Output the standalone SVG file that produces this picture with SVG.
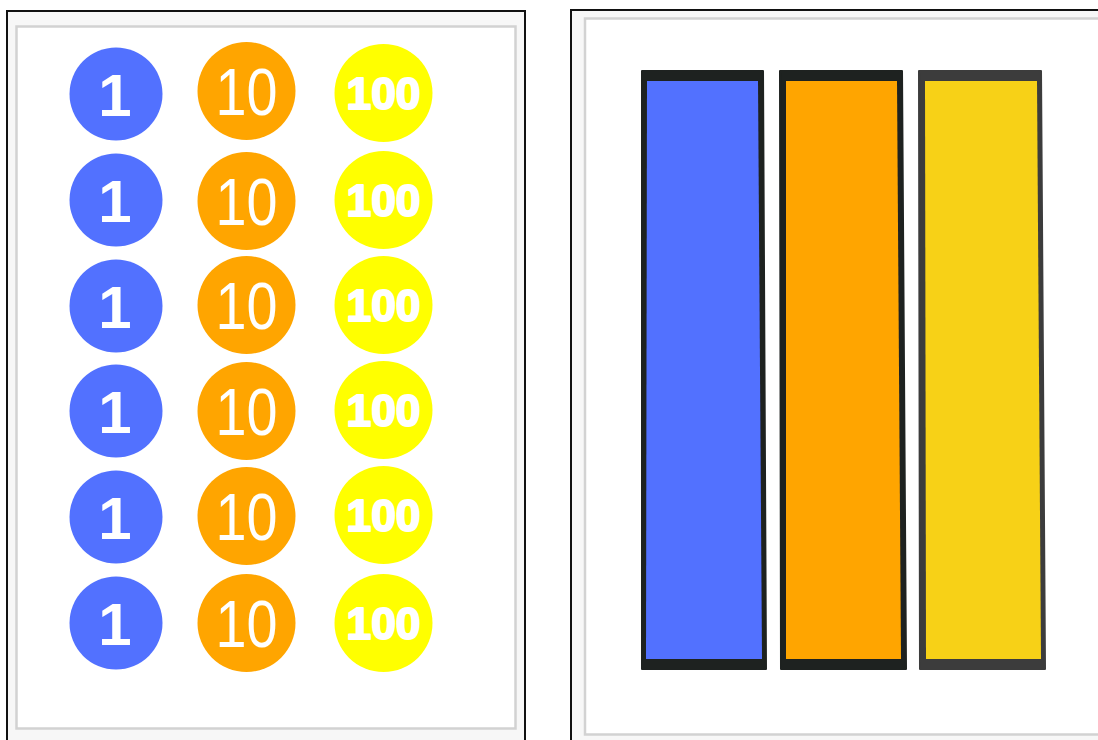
<svg xmlns="http://www.w3.org/2000/svg" width="1098" height="740" viewBox="0 0 1098 740">
<style>
.frame{fill:#f7f7f7;stroke:#111;stroke-width:2}
.inner{fill:#fff;stroke:#d2d2d2;stroke-width:2.5}
.b{fill:#5271ff}.o{fill:#ffa500}.y{fill:#ffff00}
.t{fill:#fff;font-family:"Liberation Sans",Arial,sans-serif;text-anchor:middle}
.t1{font-size:60px;font-weight:bold}
.t10{font-size:67px}
.t100{font-size:45px;font-weight:bold;stroke:#fff;stroke-width:2;stroke-linejoin:round}
.edge{stroke-linejoin:round;stroke-width:2}
</style>
<defs>
<g id="c1"><circle cx="0" cy="0" r="46.5" class="b"/><text class="t t1" x="-1" y="21.5">1</text></g>
<g id="c10"><circle cx="0" cy="0" r="49" class="o"/><text class="t t10" x="0" y="24" textLength="62" lengthAdjust="spacingAndGlyphs">10</text></g>
<g id="c100"><circle cx="0" cy="0" r="49" class="y"/><text class="t t100" x="0" y="15.5" textLength="74" lengthAdjust="spacingAndGlyphs">100</text></g>
</defs>
<rect x="0" y="0" width="1098" height="740" fill="#fff"/>
<g id="left-panel">
<rect class="frame" x="7" y="11" width="518" height="740"/>
<rect class="inner" x="16.5" y="26.5" width="499" height="702"/>
</g>
<g id="right-panel">
<rect class="frame" x="571" y="10" width="540" height="740"/>
<rect class="inner" x="585" y="18.5" width="520" height="716"/>
</g>
<g id="r1-1"><use href="#c1" x="116" y="94"/></g>
<g id="r1-10"><use href="#c10" x="246.5" y="91"/></g>
<g id="r1-100"><use href="#c100" x="383.5" y="93"/></g>
<g id="r2-1"><use href="#c1" x="116" y="200"/></g>
<g id="r2-10"><use href="#c10" x="246.5" y="201"/></g>
<g id="r2-100"><use href="#c100" x="383.5" y="200"/></g>
<g id="r3-1"><use href="#c1" x="116" y="306"/></g>
<g id="r3-10"><use href="#c10" x="246.5" y="305"/></g>
<g id="r3-100"><use href="#c100" x="383.5" y="305"/></g>
<g id="r4-1"><use href="#c1" x="116" y="411"/></g>
<g id="r4-10"><use href="#c10" x="246.5" y="411"/></g>
<g id="r4-100"><use href="#c100" x="383.5" y="410"/></g>
<g id="r5-1"><use href="#c1" x="116" y="517"/></g>
<g id="r5-10"><use href="#c10" x="246.5" y="516"/></g>
<g id="r5-100"><use href="#c100" x="383.5" y="515"/></g>
<g id="r6-1"><use href="#c1" x="116" y="623"/></g>
<g id="r6-10"><use href="#c10" x="246.5" y="623"/></g>
<g id="r6-100"><use href="#c100" x="383.5" y="623"/></g>
<g id="bar-blue">
<path class="edge" d="M642,71 L763,71 L766,669 L642,669 Z" fill="#1e2220" stroke="#1e2220"/>
<path d="M647,81 L758,81 L762,659 L646,659 Z" fill="#5271ff"/>
</g>
<g id="bar-orange">
<path class="edge" d="M780,71 L902,71 L906,669 L781,669 Z" fill="#1e2220" stroke="#1e2220"/>
<path d="M786,81 L897,81 L901,659 L786,659 Z" fill="#ffa500"/>
</g>
<g id="bar-yellow">
<path class="edge" d="M919,71 L1041,71 L1045,669 L920,669 Z" fill="#3c3c3c" stroke="#3c3c3c"/>
<path d="M925,81 L1037,81 L1041,659 L926,659 Z" fill="#f7d117"/>
</g>
</svg>
